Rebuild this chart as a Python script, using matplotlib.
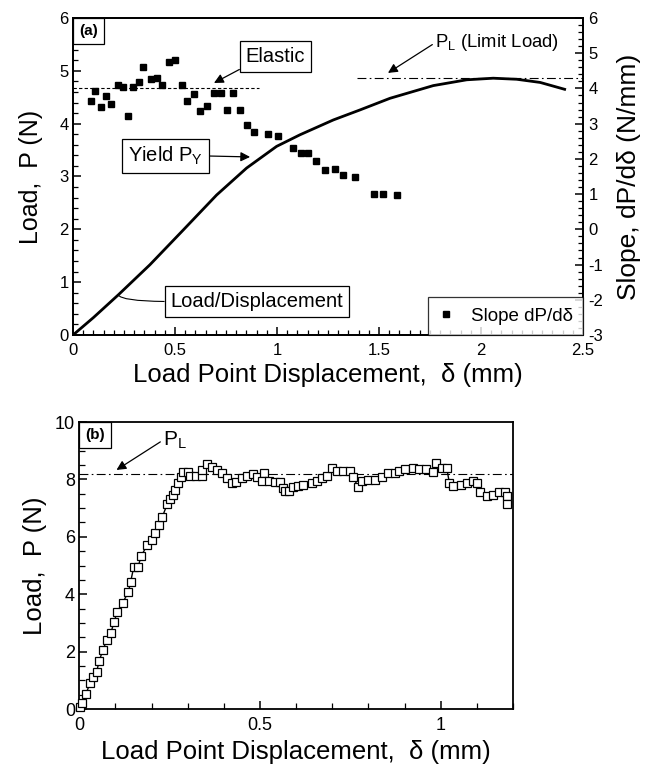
import matplotlib
matplotlib.use("Agg")
import matplotlib.pyplot as plt
from matplotlib.ticker import MultipleLocator, FuncFormatter

plt.rcParams['font.family'] = ['Liberation Sans', 'DejaVu Sans']
plt.rcParams['mathtext.fontset'] = 'custom'
plt.rcParams['mathtext.rm'] = 'Liberation Sans'
plt.rcParams['axes.unicode_minus'] = False

# ---------------- data: panel (a) ----------------
load_x = [0.0, 0.10, 0.222, 0.377, 0.541, 0.704, 0.851, 0.998, 1.113, 1.276,
          1.407, 1.554, 1.766, 1.93, 2.06, 2.175, 2.29, 2.41]
load_y = [0.0, 0.33, 0.76, 1.33, 1.99, 2.65, 3.16, 3.57, 3.79, 4.07,
          4.26, 4.48, 4.72, 4.83, 4.86, 4.84, 4.78, 4.65]

slope_x = [0.088, 0.108, 0.137, 0.162, 0.185, 0.222, 0.247, 0.268, 0.296, 0.325,
           0.345, 0.381, 0.410, 0.438, 0.469, 0.500, 0.533, 0.557, 0.595, 0.623,
           0.655, 0.691, 0.725, 0.757, 0.786, 0.819, 0.851, 0.887, 0.957, 1.003,
           1.080, 1.116, 1.154, 1.191, 1.235, 1.284, 1.325, 1.382, 1.475, 1.521,
           1.587]
slope_y = [3.63, 3.93, 3.46, 3.79, 3.56, 4.10, 4.04, 3.23, 4.03, 4.18,
           4.62, 4.26, 4.31, 4.10, 4.76, 4.81, 4.10, 3.63, 3.85, 3.36,
           3.49, 3.87, 3.87, 3.39, 3.87, 3.39, 2.97, 2.76, 2.70, 2.65,
           2.32, 2.18, 2.16, 1.95, 1.67, 1.72, 1.53, 1.48, 1.00, 1.00,
           0.97]

elastic_slope = 4.0       # N/mm (right axis)
elastic_xrange = [0.0, 0.91]
limit_load_a = 4.87       # N
limit_xrange = [1.39, 2.5]

# ---------------- data: panel (b) ----------------
b_x = [0.003, 0.0065, 0.0185, 0.030, 0.039, 0.048, 0.055, 0.065, 0.076, 0.087,
       0.096, 0.105, 0.120, 0.136, 0.142, 0.151, 0.163, 0.171, 0.188, 0.200,
       0.209, 0.221, 0.230, 0.243, 0.251, 0.258, 0.265, 0.272, 0.281, 0.286,
       0.302, 0.306, 0.323, 0.339, 0.339, 0.353, 0.366, 0.380, 0.394, 0.408,
       0.422, 0.435, 0.449, 0.463, 0.480, 0.493, 0.511, 0.507, 0.526, 0.541,
       0.555, 0.563, 0.569, 0.581, 0.592, 0.606, 0.620, 0.643, 0.657, 0.671,
       0.685, 0.698, 0.712, 0.730, 0.749, 0.758, 0.772, 0.781, 0.800, 0.818,
       0.837, 0.855, 0.874, 0.886, 0.901, 0.924, 0.941, 0.959, 0.980, 0.986,
       1.003, 1.017, 1.024, 1.035, 1.055, 1.074, 1.090, 1.100, 1.109, 1.127,
       1.144, 1.162, 1.178, 1.184, 1.184]
b_y = [0.08, 0.22, 0.52, 0.92, 1.13, 1.30, 1.67, 2.05, 2.40, 2.64,
       3.02, 3.39, 3.70, 4.08, 4.43, 4.96, 4.96, 5.33, 5.71, 5.89,
       6.14, 6.41, 6.70, 7.13, 7.31, 7.46, 7.63, 7.86, 8.09, 8.27,
       8.27, 8.12, 8.12, 8.12, 8.33, 8.54, 8.44, 8.33, 8.21, 8.04,
       7.86, 7.92, 8.04, 8.12, 8.18, 8.09, 8.24, 7.95, 7.95, 7.92,
       7.92, 7.71, 7.61, 7.60, 7.75, 7.77, 7.80, 7.86, 7.95, 8.06,
       8.13, 8.39, 8.31, 8.29, 8.31, 8.09, 7.72, 7.95, 7.98, 7.98,
       8.09, 8.21, 8.21, 8.29, 8.35, 8.39, 8.35, 8.35, 8.27, 8.58,
       8.39, 8.39, 7.89, 7.77, 7.80, 7.89, 7.94, 7.89, 7.57, 7.43,
       7.46, 7.57, 7.57, 7.42, 7.14]
limit_load_b = 8.19

fmt = FuncFormatter(lambda v, p: ('%g' % round(v, 3)))

fig = plt.figure(figsize=(6.58, 7.68), dpi=100)

# ================= panel (a) =================
ax = fig.add_axes([0.111, 0.5638, 0.775, 0.4128])
ax2 = ax.twinx()

for a in (ax, ax2):
    for s in a.spines.values():
        s.set_linewidth(1.3)

ax.plot(load_x, load_y, color='black', lw=2.0, zorder=3)
ax.plot(limit_xrange, [limit_load_a] * 2, color='black', lw=0.8, ls=(0, (8, 3, 1.5, 3)))

ax.set_xlim(0, 2.5)
ax.set_ylim(0, 6)
ax2.set_ylim(-3, 6)

ax2.plot(slope_x, slope_y, ls='none', marker='s', ms=4.5, color='black',
         label='Slope dP/d\u03b4')
ax2.plot(elastic_xrange, [elastic_slope] * 2, color='black', lw=0.8, ls=(0, (3, 2)))

ax.xaxis.set_major_locator(MultipleLocator(0.5))
ax.xaxis.set_minor_locator(MultipleLocator(0.05))
ax.yaxis.set_major_locator(MultipleLocator(1))
ax.yaxis.set_minor_locator(MultipleLocator(0.2))
ax2.yaxis.set_major_locator(MultipleLocator(1))
ax2.yaxis.set_minor_locator(MultipleLocator(0.2))
ax.xaxis.set_major_formatter(fmt)

ax.tick_params(axis='both', which='both', direction='in', labelsize=12,
               top=False, right=False)
ax.tick_params(axis='both', which='major', length=6, width=1.1)
ax.tick_params(axis='both', which='minor', length=3.5, width=0.9)
ax.tick_params(axis='x', pad=6)
ax.tick_params(axis='y', pad=3)
ax2.tick_params(axis='y', which='both', direction='in', labelsize=12, pad=4)
ax2.tick_params(axis='y', which='major', length=6, width=1.1)
ax2.tick_params(axis='y', which='minor', length=3.5, width=0.9)

ax.set_xlabel('Load Point Displacement,  \u03b4 (mm)', fontsize=18.5, labelpad=3)
ax.set_ylabel('Load,  P (N)', fontsize=18, labelpad=12)
ax2.set_ylabel('Slope, dP/d\u03b4 (N/mm)', fontsize=19, labelpad=10)

boxprops = dict(boxstyle='square,pad=0.3', fc='white', ec='black', lw=0.9)
arrow = dict(arrowstyle='-|>', color='black', lw=0.9, mutation_scale=14,
             shrinkA=0, shrinkB=0)

ax.annotate('(a)', xy=(0, 1), xycoords='axes fraction', xytext=(4.5, -4.5),
            textcoords='offset points', ha='left', va='top', fontsize=11,
            fontweight='bold', bbox=dict(boxstyle='square,pad=0.4', fc='white',
                                         ec='black', lw=0.9))

ax.annotate('Elastic', xy=(0.691, 4.77), xytext=(0.993, 5.27), fontsize=14.5,
            ha='center', va='center', bbox=boxprops,
            arrowprops=dict(arrow, relpos=(0, 0)))

ax.annotate('Yield P$_\\mathregular{Y}$', xy=(0.868, 3.37), xytext=(0.453, 3.39),
            fontsize=14.5, ha='center', va='center', bbox=boxprops,
            arrowprops=dict(arrow, relpos=(1, 0.5)))

ax.annotate('P$_\\mathregular{L}$ (Limit Load)', xy=(1.544, 4.96),
            xytext=(1.775, 5.53), fontsize=13.3, ha='left', va='center',
            arrowprops=dict(arrow, relpos=(0, 0.5)))

ax.annotate('Load/Displacement', xy=(0.221, 0.76), xytext=(0.902, 0.634),
            fontsize=14.5, ha='center', va='center', bbox=boxprops,
            arrowprops=dict(arrowstyle='-', color='black', lw=0.8,
                            relpos=(0, 0.5), shrinkA=0, shrinkB=0,
                            connectionstyle='angle3,angleA=0,angleB=-60'))

leg = ax2.legend(loc='lower right', fontsize=13.5, frameon=True, fancybox=False,
                 edgecolor='black', borderaxespad=0, handlelength=0.8,
                 handletextpad=0.9, borderpad=0.55, markerscale=1.0)
leg.get_frame().set_linewidth(0.9)

# ================= panel (b) =================
bx = fig.add_axes([0.1205, 0.0768, 0.659, 0.3737])
for s in bx.spines.values():
    s.set_linewidth(1.3)

bx.plot([0, 1.2], [limit_load_b] * 2, color='black', lw=0.8,
        ls=(0, (8, 3, 1.5, 3)))
bx.plot(b_x, b_y, color='black', lw=1.0, marker='s', ms=5.5, mfc='white',
        mec='black', mew=0.9, clip_on=False, zorder=3)

bx.set_xlim(0, 1.2)
bx.set_ylim(0, 10)
bx.xaxis.set_major_locator(MultipleLocator(0.5))
bx.xaxis.set_minor_locator(MultipleLocator(0.1))
bx.yaxis.set_major_locator(MultipleLocator(2))
bx.yaxis.set_minor_locator(MultipleLocator(0.5))
bx.xaxis.set_major_formatter(fmt)
bx.tick_params(axis='both', which='both', direction='in', labelsize=13,
               top=False, right=False)
bx.tick_params(axis='both', which='major', length=6, width=1.1)
bx.tick_params(axis='both', which='minor', length=4, width=0.9)
bx.tick_params(axis='x', pad=6)
bx.tick_params(axis='y', pad=3)

bx.set_xlabel('Load Point Displacement,  \u03b4 (mm)', fontsize=18.5, labelpad=4)
bx.set_ylabel('Load,  P (N)', fontsize=18.5, labelpad=6)

bx.annotate('(b)', xy=(0, 1), xycoords='axes fraction', xytext=(4.5, -4.5),
            textcoords='offset points', ha='left', va='top', fontsize=11,
            fontweight='bold', bbox=dict(boxstyle='square,pad=0.4', fc='white',
                                         ec='black', lw=0.9))
bx.annotate('P$_\\mathregular{L}$', xy=(0.103, 8.33), xytext=(0.232, 9.37),
            fontsize=15, ha='left', va='center',
            arrowprops=dict(arrow, relpos=(0, 0.5)))

fig.savefig('out.png', dpi=100)
